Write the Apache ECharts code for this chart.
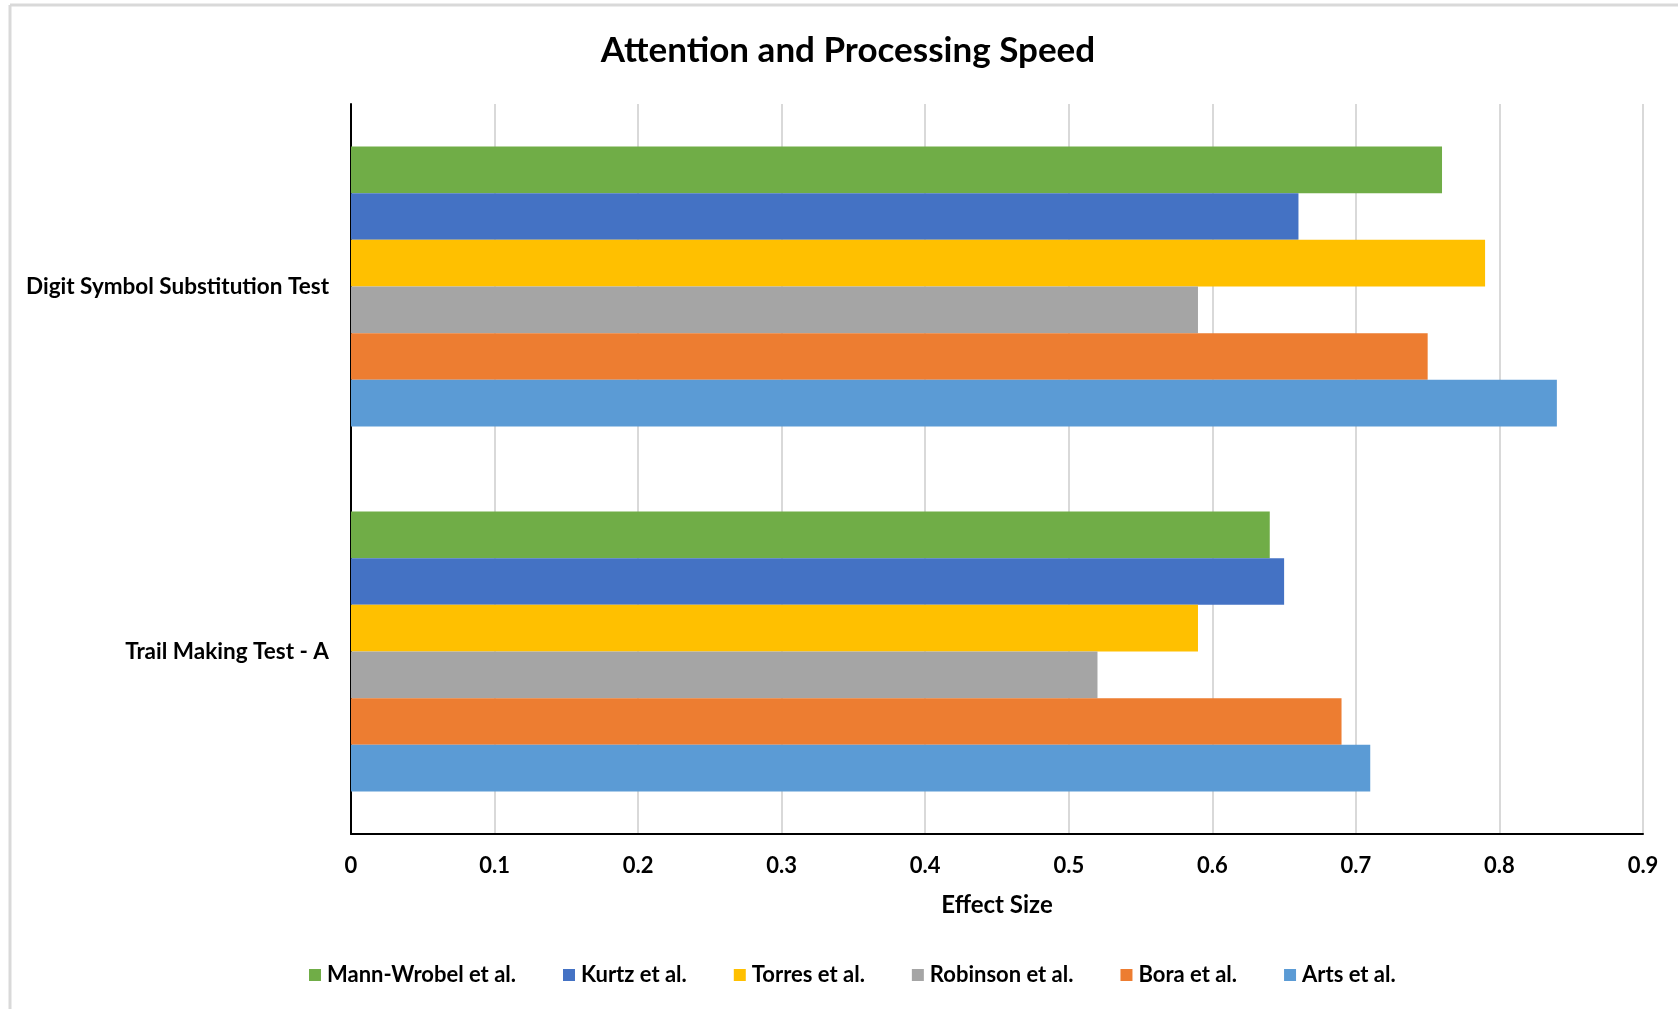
<!DOCTYPE html>
<html>
<head>
<meta charset="utf-8">
<title>Attention and Processing Speed</title>
<script src="https://cdn.jsdelivr.net/npm/echarts@6/dist/echarts.min.js"></script>
<style>
  html, body { margin: 0; padding: 0; background: #ffffff; }
  #chart { width: 1678px; height: 1009px; }
</style>
</head>
<body>
<div id="chart"></div>
<script>
// Tests shown on the category axis, top to bottom
const categories = ['Digit Symbol Substitution Test', 'Trail Making Test - A'];

// Studies, in the order they are stacked inside each group (top to bottom)
const studies = ['Mann-Wrobel et al.', 'Kurtz et al.', 'Torres et al.', 'Robinson et al.', 'Bora et al.', 'Arts et al.'];

// Effect sizes per study: [Digit Symbol Substitution Test, Trail Making Test - A]
const mannWrobel = [0.76, 0.64];
const kurtz      = [0.66, 0.65];
const torres     = [0.79, 0.59];
const robinson   = [0.59, 0.52];
const bora       = [0.75, 0.69];
const arts       = [0.84, 0.71];

// Effect-size axis ticks
const xTicks = [0, 0.1, 0.2, 0.3, 0.4, 0.5, 0.6, 0.7, 0.8, 0.9];

const seriesValues = [mannWrobel, kurtz, torres, robinson, bora, arts];
const seriesColors = ['#70AD47', '#4472C4', '#FFC000', '#A5A5A5', '#ED7D31', '#5B9BD5'];

const FONT = 'Lato';

const chart = echarts.init(document.getElementById('chart'), null, { renderer: 'canvas' });

chart.setOption({
  backgroundColor: '#ffffff',
  animation: false,
  textStyle: { fontFamily: FONT },
  graphic: [
    // chart-area frame (top and left edges)
    { type: 'line', shape: { x1: 10, y1: 5, x2: 1678, y2: 5 }, style: { stroke: '#d9d9d9', lineWidth: 3 }, silent: true },
    { type: 'line', shape: { x1: 10, y1: 5, x2: 10, y2: 1009 }, style: { stroke: '#d9d9d9', lineWidth: 3 }, silent: true },
    {
      type: 'text', x: 848, y: 51,
      style: {
        text: 'Attention and Processing Speed',
        fontFamily: FONT, fontWeight: 'bold', fontSize: 35,
        fill: '#000000', textAlign: 'center', textVerticalAlign: 'middle'
      }
    }
  ],
  legend: {
    data: studies,
    left: 304,
    top: 959,
    padding: 5,
    itemWidth: 12,
    itemHeight: 12,
    itemGap: 47,
    icon: 'rect',
    textStyle: { fontFamily: FONT, fontWeight: 'bold', fontSize: 22, color: '#000000', padding: [0, 0, 0, 1] }
  },
  grid: { left: 351, top: 104, right: 35, bottom: 175, containLabel: false },
  xAxis: {
    type: 'value',
    min: xTicks[0],
    max: xTicks[xTicks.length - 1],
    interval: 0.1,
    name: 'Effect Size',
    nameLocation: 'middle',
    nameGap: 59,
    nameTextStyle: { fontFamily: FONT, fontWeight: 'bold', fontSize: 24, color: '#000000' },
    axisLine: { show: true, lineStyle: { color: '#000000', width: 2 } },
    axisTick: { show: false },
    axisLabel: {
      margin: 21,
      fontFamily: FONT, fontWeight: 'bold', fontSize: 22, color: '#000000',
      formatter: function (v) { return String(Math.round(v * 10) / 10); }
    },
    splitLine: { show: true, lineStyle: { color: '#d9d9d9', width: 2 } }
  },
  yAxis: {
    type: 'category',
    data: categories,
    inverse: true,
    axisLine: { show: true, lineStyle: { color: '#000000', width: 2 } },
    axisTick: { show: false },
    axisLabel: { margin: 22, fontFamily: FONT, fontWeight: 'bold', fontSize: 22.5, color: '#000000' },
    splitLine: { show: false }
  },
  series: studies.map(function (name, i) {
    return {
      name: name,
      type: 'bar',
      data: seriesValues[i],
      barGap: '0%',
      barCategoryGap: '23.3%',
      itemStyle: { color: seriesColors[i] },
      z: 2
    };
  })
});
</script>
</body>
</html>
